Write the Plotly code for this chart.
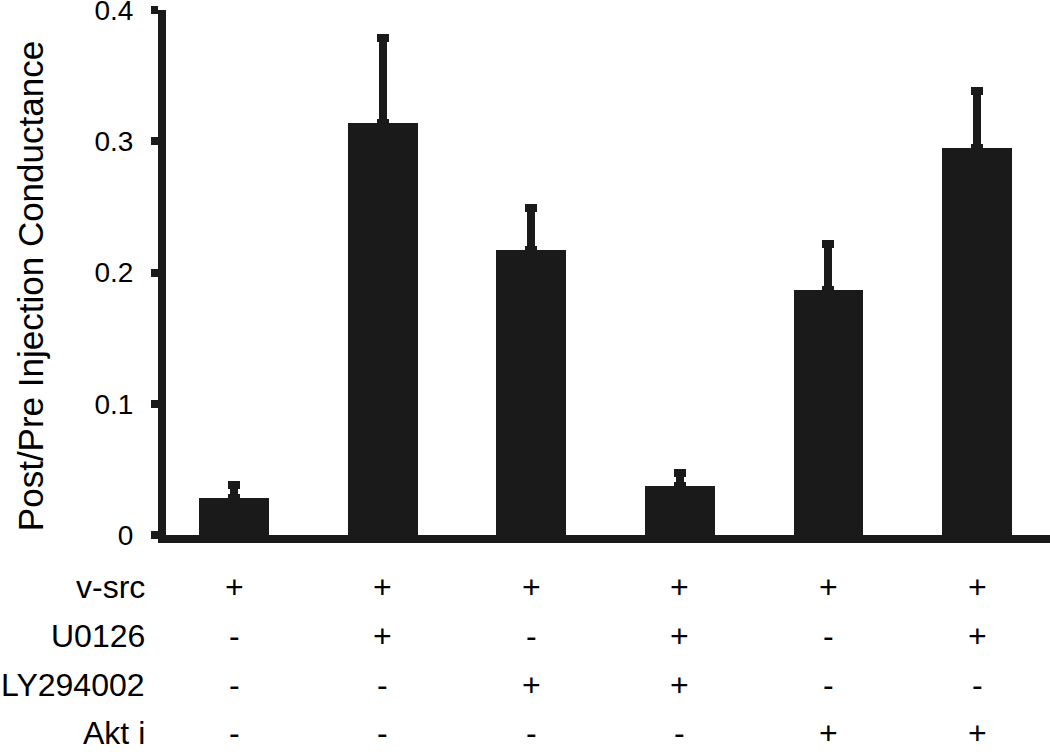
import plotly.graph_objects as go

# data
conditions = ["1", "2", "3", "4", "5", "6"]
means = [0.028, 0.314, 0.217, 0.037, 0.187, 0.295]
errors = [0.010, 0.065, 0.032, 0.010, 0.035, 0.043]

row_labels = ["v-src", "U0126", "LY294002", "Akt i"]
treatments = [
    ["+", "+", "+", "+", "+", "+"],
    ["-", "+", "-", "+", "-", "+"],
    ["-", "-", "+", "+", "-", "-"],
    ["-", "-", "-", "-", "+", "+"],
]

y_ticks = [0, 0.1, 0.2, 0.3, 0.4]
y_ticktext = ["0", "0.1", "0.2", "0.3", "0.4"]

INK = "#1a1a1a"
FONT = "Liberation Sans, Arial, sans-serif"

fig = go.Figure(
    go.Bar(
        x=list(range(len(conditions))),
        y=means,
        width=0.47,
        marker=dict(color=INK, line=dict(width=0)),
        error_y=dict(
            type="data", symmetric=False, array=errors,
            arrayminus=[0] * len(errors),
            color=INK, thickness=8, width=6,
        ),
    )
)

fig.update_layout(
    width=1050, height=754,
    margin=dict(l=166, r=0, t=10, b=219),
    paper_bgcolor="white", plot_bgcolor="white",
    font=dict(family=FONT, color="black", size=28),
    showlegend=False,
    bargap=0,
)

fig.update_xaxes(
    range=[-0.4576, 5.491], showgrid=False, zeroline=False,
    showline=True, linecolor=INK, linewidth=8,
    showticklabels=False, ticks="", automargin=False,
)
fig.update_yaxes(
    range=[0, 0.4], showgrid=False, zeroline=False,
    showline=True, linecolor=INK, linewidth=8,
    ticks="outside", ticklen=7, tickwidth=8, tickcolor=INK,
    tickvals=y_ticks, ticktext=y_ticktext, ticklabelstandoff=12,
    tickfont=dict(size=28), ticklabeloverflow="allow", automargin=False,
)

# y-axis title
fig.add_annotation(
    text="Post/Pre Injection Conductance", textangle=-90,
    xref="paper", yref="paper", x=0, y=0.474, xshift=-136,
    xanchor="center", yanchor="middle", showarrow=False,
    font=dict(size=35),
)

# treatment table under the bars
row_offsets = [52, 101, 150, 198]
for label, marks, off in zip(row_labels, treatments, row_offsets):
    fig.add_annotation(
        text=label, xref="paper", yref="paper", x=0, y=0,
        xshift=-19, yshift=-off, xanchor="right", yanchor="middle",
        showarrow=False, font=dict(size=32),
    )
    for i, m in enumerate(marks):
        fig.add_annotation(
            text=m, xref="x", yref="paper", x=i, y=0, yshift=-off,
            xanchor="center", yanchor="middle", showarrow=False,
            font=dict(size=32),
        )

# drop the browser's default page margin so the figure sits at 0,0
fig.write_html(
    "out.html",
    config={"displayModeBar": False},
    post_script="document.body.style.margin='0';",
)
